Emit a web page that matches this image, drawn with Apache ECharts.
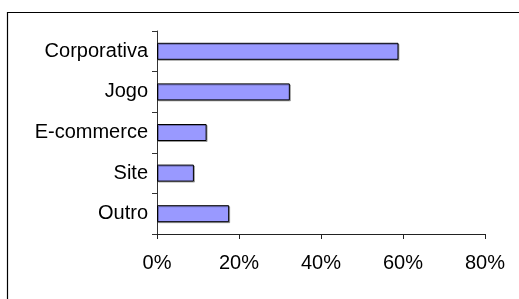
<!DOCTYPE html>
<html>
<head>
<meta charset="utf-8">
<script src="https://cdn.jsdelivr.net/npm/echarts@6/dist/echarts.min.js"></script>
<style>
	html, body { margin: 0; padding: 0; background: #fff; }
	#main { width: 519px; height: 299px; }
</style>
</head>
<body>
<div id="main"></div>
<script>
// categories, top to bottom
var categories = ['Corporativa', 'Jogo', 'E-commerce', 'Site', 'Outro'];
// share in percent
var shares = [58.9, 32.4, 12.1, 9.0, 17.6];
var tickValues = [0, 20, 40, 60, 80];

(function(){
	var chart = echarts.init(document.getElementById('main'));
	var font = 'Arial, "Liberation Sans", sans-serif';
	var option = {
		animation: false,
		// outer frame of the chart area
		graphic: [{
			type: 'rect',
			shape: { x: 7.5, y: 12.5, width: 530, height: 320 },
			style: { fill: 'none', stroke: '#000', lineWidth: 1.2 },
			silent: true
		}],
		grid: {
			left: 157,
			right: 34,
			top: 31,
			bottom: 65
		},
		xAxis: {
			type: 'value',
			min: tickValues[0],
			max: tickValues[tickValues.length - 1],
			interval: 20,
			splitLine: { show: false },
			axisLine: { show: true, lineStyle: { color: '#222', width: 1 } },
			axisTick: { show: true, length: 5, lineStyle: { color: '#222' } },
			axisLabel: {
				margin: 19,
				color: '#000',
				fontFamily: font,
				fontSize: 20,
				formatter: '{value}%'
			}
		},
		yAxis: {
			type: 'category',
			data: categories,
			inverse: true,
			axisLine: { show: true, lineStyle: { color: '#333', width: 1 } },
			axisTick: { show: true, length: 5, lineStyle: { color: '#333' } },
			axisLabel: {
				margin: 9,
				color: '#000',
				fontFamily: font,
				fontSize: 20
			}
		},
		series: [{
			type: 'bar',
			data: shares,
			barWidth: 17,
			itemStyle: {
				color: '#9999FF',
				borderColor: '#000',
				borderWidth: 1,
				shadowColor: 'rgba(0,0,0,0.3)',
				shadowOffsetX: 1,
				shadowOffsetY: 1,
				shadowBlur: 0
			}
		}]
	};
	chart.setOption(option);
})();
</script>
</body>
</html>
